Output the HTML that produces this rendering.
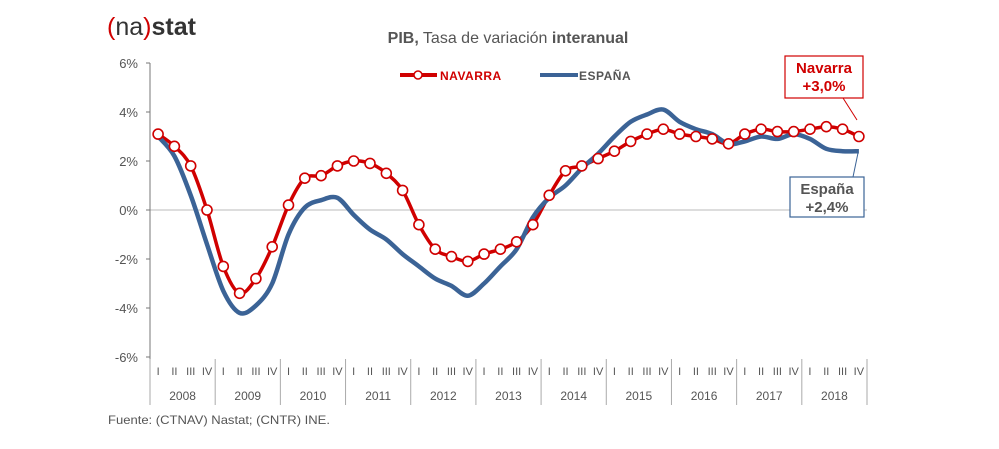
<!DOCTYPE html>
<html><head><meta charset="utf-8"><style>
body{margin:0;background:#fff;width:999px;height:449px;overflow:hidden}
svg{display:block;font-family:"Liberation Sans",sans-serif}
</style></head><body>
<svg id="c" width="999" height="449" xmlns="http://www.w3.org/2000/svg">
<text x="107" y="35" font-size="25" fill="#333"><tspan fill="#d00000">(</tspan>na<tspan fill="#d00000">)</tspan><tspan font-weight="bold">stat</tspan></text>
<text x="508" y="43" font-size="16" fill="#555" text-anchor="middle"><tspan font-weight="bold">PIB,</tspan> Tasa de variación <tspan font-weight="bold">interanual</tspan></text>
<line x1="400" y1="75" x2="437" y2="75" stroke="#d00000" stroke-width="4"/>
<circle cx="418" cy="75" r="4" fill="#fff" stroke="#d00000" stroke-width="1.5"/>
<text x="440" y="80" font-size="12" font-weight="bold" fill="#d00000" letter-spacing="0.5">NAVARRA</text>
<line x1="540" y1="75" x2="578" y2="75" stroke="#3b6396" stroke-width="4"/>
<text x="579" y="80" font-size="12" font-weight="bold" fill="#555" letter-spacing="0.5">ESPAÑA</text>
<line x1="150" y1="210" x2="867" y2="210" stroke="#bbb" stroke-width="1"/>
<line x1="150" y1="63" x2="150" y2="359" stroke="#777" stroke-width="1"/>
<g id="g"></g>
<text x="108" y="424" font-size="12" fill="#555" textLength="222" lengthAdjust="spacingAndGlyphs">Fuente: (CTNAV) Nastat; (CNTR) INE.</text>
<line x1="843" y1="98" x2="857" y2="120" stroke="#d00000" stroke-width="1"/>
<rect x="785" y="56" width="78" height="42" fill="#fff" stroke="#d00000" stroke-width="1.2"/>
<text x="824" y="73" font-size="15" font-weight="bold" fill="#d00000" text-anchor="middle">Navarra</text>
<text x="824" y="91" font-size="15" font-weight="bold" fill="#d00000" text-anchor="middle">+3,0%</text>
<line x1="858" y1="153" x2="853" y2="177" stroke="#3b6396" stroke-width="1"/>
<rect x="790" y="177" width="74" height="40" fill="#fff" stroke="#3b6396" stroke-width="1.2"/>
<text x="827" y="194" font-size="15" font-weight="bold" fill="#555" text-anchor="middle">España</text>
<text x="827" y="212" font-size="15" font-weight="bold" fill="#555" text-anchor="middle">+2,4%</text>
</svg>
<script>
var nav=[3.1,2.6,1.8,0.0,-2.3,-3.4,-2.8,-1.5,0.2,1.3,1.4,1.8,2.0,1.9,1.5,0.8,-0.6,-1.6,-1.9,-2.1,-1.8,-1.6,-1.3,-0.6,0.6,1.6,1.8,2.1,2.4,2.8,3.1,3.3,3.1,3.0,2.9,2.7,3.1,3.3,3.2,3.2,3.3,3.4,3.3,3.0];
var esp=[3.0,2.2,0.6,-1.4,-3.3,-4.2,-3.9,-3.0,-1.0,0.1,0.4,0.5,-0.2,-0.8,-1.2,-1.8,-2.3,-2.8,-3.1,-3.5,-3.0,-2.3,-1.6,-0.3,0.5,1.0,1.7,2.3,3.0,3.6,3.9,4.1,3.6,3.3,3.1,2.7,2.8,3.0,2.9,3.1,2.9,2.5,2.4,2.4];
var W=(867-150)/44,s='';
function X(i){return 150+W*(i+0.5)}
function Y(v){return 210-v*24.5}
for(var k=-6;k<=6;k+=2){var y=Y(k);s+='<line x1="146" y1="'+y+'" x2="150" y2="'+y+'" stroke="#777"/>';s+='<text x="138" y="'+(y+5)+'" font-size="13" fill="#555" text-anchor="end">'+k+'%</text>';}
var q=['I','II','III','IV'];
for(var i=0;i<=11;i++){var x=150+W*4*i;s+='<line x1="'+x+'" y1="359" x2="'+x+'" y2="405" stroke="#aaa"/>';}
for(var i=0;i<44;i++){s+='<text x="'+X(i)+'" y="375" font-size="11" fill="#555" text-anchor="middle">'+q[i%4]+'</text>';}
for(var i=0;i<11;i++){s+='<text x="'+(150+W*4*(i+0.5))+'" y="400" font-size="12" fill="#555" text-anchor="middle">'+(2008+i)+'</text>';}
function path(d){
 var p=d.map(function(v,i){return [X(i),Y(v)]});
 var o='M'+p[0][0].toFixed(1)+' '+p[0][1].toFixed(1);
 for(var i=0;i<p.length-1;i++){
  var p0=p[Math.max(0,i-1)],p1=p[i],p2=p[i+1],p3=p[Math.min(p.length-1,i+2)],t=0.16;
  o+=' C'+(p1[0]+(p2[0]-p0[0])*t).toFixed(1)+' '+(p1[1]+(p2[1]-p0[1])*t).toFixed(1)+' '+(p2[0]-(p3[0]-p1[0])*t).toFixed(1)+' '+(p2[1]-(p3[1]-p1[1])*t).toFixed(1)+' '+p2[0].toFixed(1)+' '+p2[1].toFixed(1);
 }
 return o;}
s+='<path d="'+path(nav)+'" fill="none" stroke="#d00000" stroke-width="3.5" stroke-linejoin="round"/>';
s+='<path d="'+path(esp)+'" fill="none" stroke="#3b6396" stroke-width="4.5" stroke-linejoin="round"/>';
nav.forEach(function(v,i){s+='<circle cx="'+X(i).toFixed(1)+'" cy="'+Y(v).toFixed(1)+'" r="5" fill="#fff" stroke="#d00000" stroke-width="1.6"/>';});
document.getElementById('g').innerHTML=s;
</script>
</body></html>
